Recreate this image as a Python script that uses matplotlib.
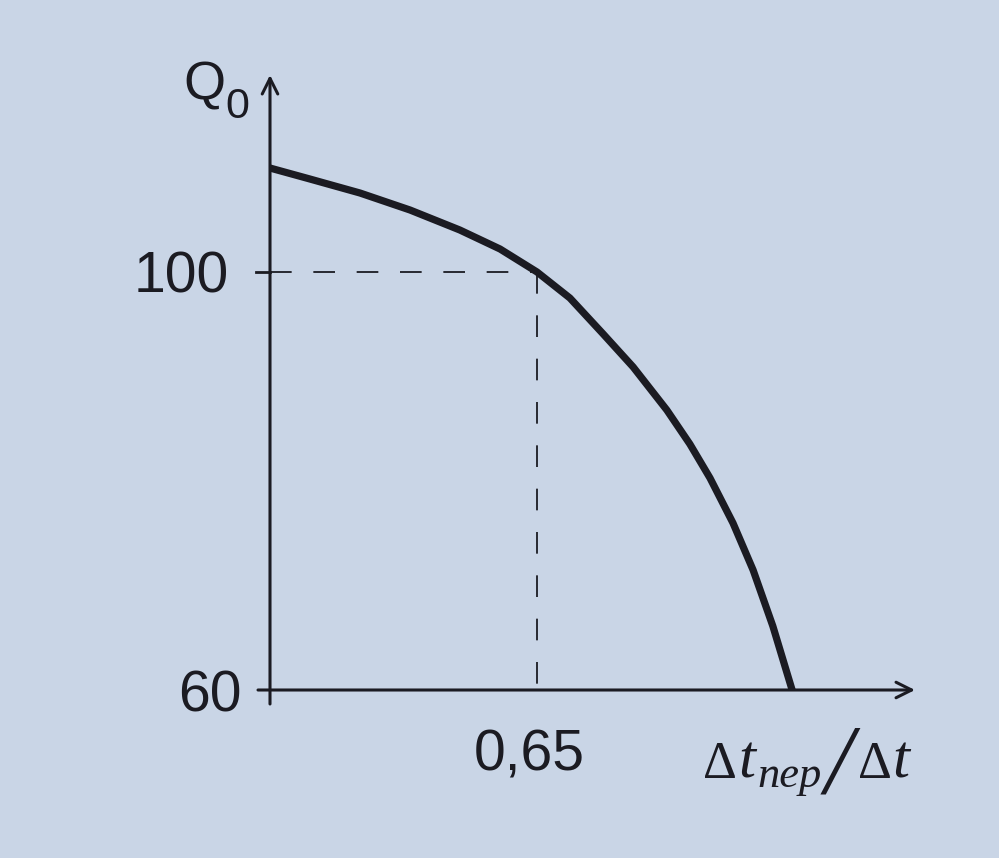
import matplotlib
matplotlib.use("Agg")
import matplotlib.pyplot as plt

# Data (x = Δt_пер/Δt, y = Q0)
ratio = [0.0, 0.097, 0.219, 0.341, 0.462, 0.560, 0.65, 0.730, 0.811, 0.884,
         0.966, 1.022, 1.071, 1.127, 1.176, 1.224, 1.271]
q0 = [109.95, 108.90, 107.56, 105.93, 104.02, 102.20, 100.0, 97.51, 94.07, 90.91,
      86.79, 83.54, 80.29, 75.98, 71.48, 66.12, 60.0]

x_mark = 0.65
y_mark = 100
y_min = 60
x_tick_label = "0,65"
y_tick_labels = ["60", "100"]

BG = "#c9d5e6"
INK = "#1b1b22"

W, H = 999, 858
fig = plt.figure(figsize=(W / 100, H / 100), dpi=100, facecolor=BG)

px_per_x = 410.8
px_per_y = 10.45
left_px, bottom_px = 270, 690
right_px, top_px = 915, 75
ax = fig.add_axes([left_px / W, (H - bottom_px) / H,
                   (right_px - left_px) / W, (bottom_px - top_px) / H])
ax.set_facecolor("none")
ax.set_xlim(0, (right_px - left_px) / px_per_x)
ax.set_ylim(y_min, y_min + (bottom_px - top_px) / px_per_y)
for s in ax.spines.values():
    s.set_visible(False)
ax.set_xticks([])
ax.set_yticks([])

xmax = ax.get_xlim()[1]
ymax = ax.get_ylim()[1]
dx = 1 / px_per_x
dy = 1 / px_per_y

# axes with arrows
ax.annotate("", xy=(xmax, y_min), xytext=(-12 * dx, y_min),
            arrowprops=dict(arrowstyle="->", color=INK, lw=2.2,
                            mutation_scale=28, shrinkA=0, shrinkB=0),
            annotation_clip=False)
ax.annotate("", xy=(0, ymax), xytext=(0, y_min - 14 * dy),
            arrowprops=dict(arrowstyle="->", color=INK, lw=2.2,
                            mutation_scale=28, shrinkA=0, shrinkB=0),
            annotation_clip=False)

# tick at 100
ax.plot([-14 * dx, 0], [y_mark, y_mark], color=INK, lw=2.0, clip_on=False)

# dashed guides
ax.plot([0, x_mark], [y_mark, y_mark], color=INK, lw=1.3, ls=(0, (12, 12)), clip_on=False)
ax.plot([x_mark, x_mark], [y_mark, y_min - 14 * dy], color=INK, lw=1.3,
        ls=(0, (12, 12)), clip_on=False)

# curve
ax.plot(ratio, q0, color=INK, lw=5.2, solid_capstyle="butt",
        solid_joinstyle="round", clip_on=False)


def fx(px):
    return px / W


def fy(py):
    return 1 - py / H


# tick labels
fs = 41
fig.text(fx(229), fy(272), y_tick_labels[1], ha="right", va="center_baseline",
         fontsize=fs, family="Liberation Sans", color=INK)
fig.text(fx(242), fy(690), y_tick_labels[0], ha="right", va="center_baseline",
         fontsize=fs, family="Liberation Sans", color=INK)
fig.text(fx(529), fy(770), x_tick_label, ha="center", va="baseline",
         fontsize=fs, family="Liberation Sans", color=INK)

# y-axis label Q0
fig.text(fx(183), fy(100), "Q", ha="left", va="baseline",
         fontsize=39, family="Liberation Sans", color=INK)
fig.text(fx(225), fy(118), "0", ha="left", va="baseline",
         fontsize=31, family="Liberation Sans", color=INK)

# x-axis label Δt_пер/Δt
serif = "Liberation Serif"
dfs = 38
tfs = 44
fig.text(fx(703), fy(778), "Δ", ha="left", va="baseline", fontsize=dfs,
         family=serif, color=INK)
fig.text(fx(738), fy(778), "t", ha="left", va="baseline", fontsize=tfs,
         family=serif, style="italic", color=INK)
fig.text(fx(757), fy(787), "пер", ha="left", va="baseline", fontsize=32,
         family=serif, style="italic", color=INK)
fig.text(fx(825), fy(792), "/", ha="left", va="baseline", fontsize=72,
         family=serif, style="italic", color=INK)
fig.text(fx(858), fy(778), "Δ", ha="left", va="baseline", fontsize=dfs,
         family=serif, color=INK)
fig.text(fx(892), fy(778), "t", ha="left", va="baseline", fontsize=tfs,
         family=serif, style="italic", color=INK)

fig.savefig("out.png", dpi=100, facecolor=BG)
